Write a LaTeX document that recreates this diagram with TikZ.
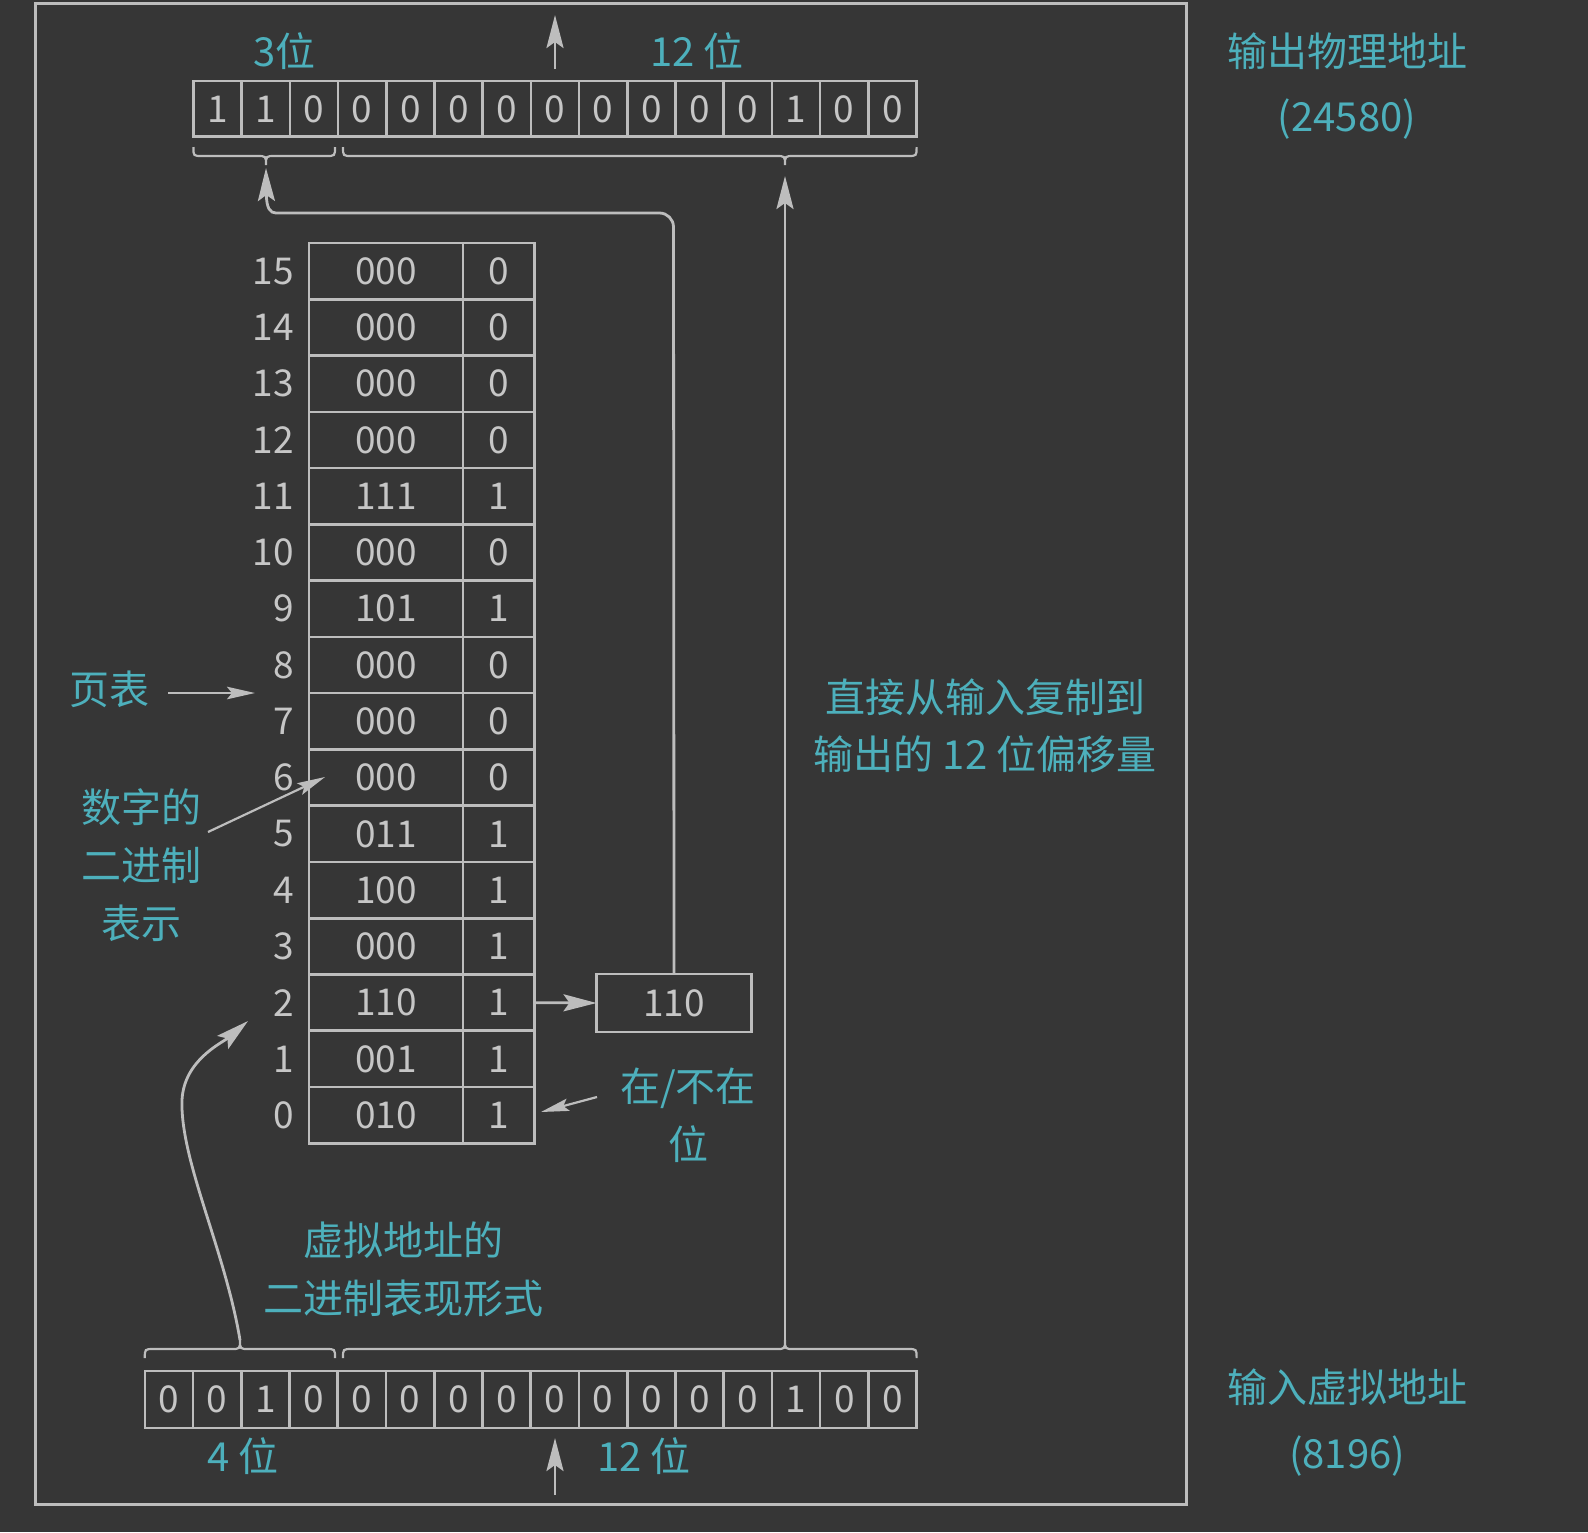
\documentclass[tikz,border=0pt]{standalone}
\usepackage{fontspec}
\setmainfont{Noto Sans CJK SC}
\usetikzlibrary{arrows.meta}
\definecolor{bg}{HTML}{363636}
\definecolor{ln}{HTML}{BDBDBD}
\definecolor{tl}{HTML}{4DB0BC}
\definecolor{dg}{HTML}{C6C6C6}
\begin{document}
\begin{tikzpicture}[x=1pt,y=-1pt,line width=2.6pt,
  every node/.style={inner sep=0pt,outer sep=0pt},
  lbl/.style={text=tl,font=\fontsize{40}{57.7}\selectfont,align=center},
  num/.style={text=dg,font=\fontsize{37}{44}\selectfont},
  bitcell/.style={draw=ln,num,minimum width=48.2pt,minimum height=55.7pt},
  framecell/.style={draw=ln,num,minimum width=153.8pt,minimum height=56.27pt},
  prescell/.style={draw=ln,num,minimum width=71.9pt,minimum height=56.27pt},
  arr/.style={draw=ln,line width=2.8pt,-{Stealth[length=33pt,width=17pt,inset=6pt]}},
  sarr/.style={draw=ln,line width=2.2pt,-{Stealth[length=28pt,width=12.5pt,inset=5pt]}},
  brace/.style={draw=ln,line width=2.2pt}
]
\fill[bg] (0,0) rectangle (1588,1532);
\useasboundingbox (0,0) rectangle (1588,1532);
% outer frame
\draw[ln,line width=3pt] (35,3) rectangle (1186,1504);

% output register
\foreach \d [count=\i from 0] in {1,1,0,0,0,0,0,0,0,0,0,0,1,0,0}
  \node[bitcell] (o\i) at ({193.4+48.2*(\i+0.5)},108.85) {\d};
% input register
\foreach \d [count=\i from 0] in {0,0,1,0,0,0,0,0,0,0,0,0,0,1,0,0}
  \node[bitcell,minimum width=48.24pt,minimum height=57pt] (v\i) at ({144.8+48.24*(\i+0.5)},1399.5) {\d};

% page table
\foreach \r/\v/\b in {15/000/0,14/000/0,13/000/0,12/000/0,11/111/1,10/000/0,9/101/1,8/000/0,7/000/0,6/000/0,5/011/1,4/100/1,3/000/1,2/110/1,1/001/1,0/010/1}{
  \pgfmathsetmacro\yc{243+(15-\r+0.5)*56.27}
  \node[framecell] (f\r) at (385.9,\yc) {\v};
  \node[prescell] (p\r) at (498.75,\yc) {\b};
  \node[num,anchor=east] (n\r) at (294,\yc) {\r};
}
% physical frame box
\node[draw=ln,num,minimum width=155pt,minimum height=58pt] (pf) at (674,1003) {110};
\draw[arr] (p2.east) -- (pf.west);

% braces (top)
\draw[brace] (193.4,147) .. controls (193.4,156) .. (202,156) -- (257,156) .. controls (266,156) .. (266,165) .. controls (266,156) .. (275,156) -- (326,156) .. controls (335,156) .. (335,147);
\draw[brace] (343,147) .. controls (343,156) .. (352,156) -- (776,156) .. controls (785,156) .. (785,165) .. controls (785,156) .. (794,156) -- (907.6,156) .. controls (916.6,156) .. (916.6,147);
% braces (bottom)
\draw[brace] (144.8,1358) .. controls (144.8,1349) .. (153.8,1349) -- (231,1349) .. controls (240,1349) .. (240,1340) .. controls (240,1349) .. (249,1349) -- (326,1349) .. controls (335,1349) .. (335,1358);
\draw[brace] (343,1358) .. controls (343,1349) .. (352,1349) -- (776,1349) .. controls (785,1349) .. (785,1340) .. controls (785,1349) .. (794,1349) -- (907.6,1349) .. controls (916.6,1349) .. (916.6,1358);

\coordinate (tl3) at (266,168);
\coordinate (tr12) at (785,176);
\coordinate (bl4) at (240,1340);
\coordinate (br12) at (785,1340);
\coordinate (corner) at (673.5,213);
\coordinate (turn) at (290,213);
\coordinate (bend) at (182,1100);
\coordinate (row2) at (248,1021);

% offset copied directly
\draw[arr] (br12) -- (tr12);
% frame number path
\draw[arr,rounded corners=14pt] (pf.north) -- (corner) -- (turn) .. controls (270,213) and (266.5,208) .. (tl3);
% virtual page index curve
\draw[arr] (bl4) .. controls (225,1250) and (180,1160) .. (bend) .. controls (184,1060) and (222,1043) .. (row2);

% up arrows at registers
\coordinate (oa1) at (555,69);
\coordinate (oa2) at (555,15);
\draw[arr] (oa1) -- (oa2);
\coordinate (ia1) at (555,1495);
\coordinate (ia2) at (555,1438);
\draw[arr] (ia1) -- (ia2);

% labels
\node[lbl] (l3) at (284.6,51) {3位};
\node[lbl] (l12) at (697,51) {12 位};
\node[lbl] (l4) at (243,1456) {4 位};
\node[lbl] (l12b) at (644,1456) {12 位};
\node[lbl] (outphys) at (1347,51) {输出物理地址};
\node[lbl] (outnum) at (1347,119.5) {(24580)};
\node[lbl] (invirt) at (1347,1387.5) {输入虚拟地址};
\node[lbl] (innum) at (1347,1456) {(8196)};
\node[lbl] (pt) at (109,689) {页表};
\node[lbl] (binrep) at (141,865) {数字的\\二进制\\表示};
\node[lbl] (presbit) at (688,1115.5) {在/不在\\位};
\node[lbl] (vbin) at (403,1269.5) {虚拟地址的\\二进制表现形式};
\node[lbl] (offs) at (985,725.7) {直接从输入复制到\\输出的 12 位偏移量};

% small arrows
\coordinate (pta) at (168,693);
\coordinate (ptb) at (255,693);
\draw[sarr] (pta) -- (ptb);
\coordinate (bra) at (208,832);
\coordinate (brb) at (325,777);
\draw[sarr] (bra) -- (brb);
\coordinate (pba) at (597,1097);
\coordinate (pbb) at (541,1112);
\draw[sarr] (pba) -- (pbb);
\end{tikzpicture}
\end{document}
